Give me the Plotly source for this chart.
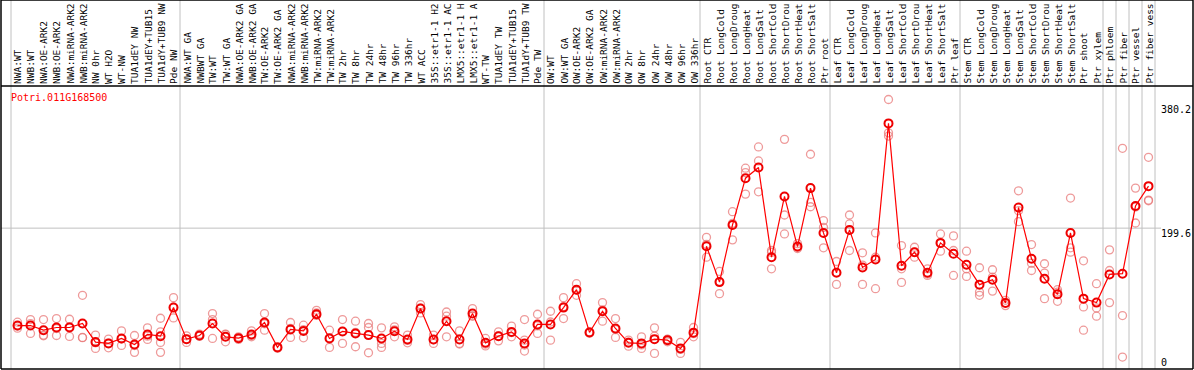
import plotly.graph_objects as go

# ---- data ----
categories = [
    "NWA:WT", "NWB:WT", "NWA:OE-ARK2", "NWB:OE-ARK2", "NWA:miRNA-ARK2", "NWB:miRNA-ARK2",
    "NW 0hr", "WT H2O", "WT-NW", "TUA1dEY NW", "TUA1dEY+TUB15", "TUA1dY+TUB9 NW", "Pde NW",
    "NWA:WT GA", "NWBWT GA", "TW:WT", "TW:WT GA", "NWA:OE-ARK2 GA", "NWB:OE-ARK2 GA",
    "TW:OE-ARK2", "TW:OE-ARK2 GA", "NWA:miRNA-ARK2", "NWB:miRNA-ARK2", "TW:miRNA-ARK2",
    "TW:miRNA-ARK2", "TW 2hr", "TW 8hr", "TW 24hr", "TW 48hr", "TW 96hr", "TW 336hr",
    "WT ACC", "35S::etr1-1 H2O", "35S::etr1-1 ACC", "LMX5::etr1-1 H2O", "LMX5::etr1-1 ACC",
    "WT-TW", "TUA1dEY TW", "TUA1dEY+TUB15", "TUA1dY+TUB9 TW", "Pde TW",
    "OW:WT", "OW:WT GA", "OW:OE-ARK2", "OW:OE-ARK2 GA", "OW:miRNA-ARK2", "OW:miRNA-ARK2",
    "OW 2hr", "OW 8hr", "OW 24hr", "OW 48hr", "OW 96hr", "OW 336hr",
    "Root CTR", "Root LongCold", "Root LongDrought", "Root LongHeat", "Root LongSalt",
    "Root ShortCold", "Root ShortDrought", "Root ShortHeat", "Root ShortSalt", "Ptr root",
    "Leaf CTR", "Leaf LongCold", "Leaf LongDrought", "Leaf LongHeat", "Leaf LongSalt",
    "Leaf ShortCold", "Leaf ShortDrought", "Leaf ShortHeat", "Leaf ShortSalt", "Ptr leaf",
    "Stem CTR", "Stem LongCold", "Stem LongDrought", "Stem LongHeat", "Stem LongSalt",
    "Stem ShortCold", "Stem ShortDrought", "Stem ShortHeat", "Stem ShortSalt",
    "Ptr shoot", "Ptr xylem", "Ptr phloem", "Ptr fiber", "Ptr vessel", "Ptr fiber vessel",
]

mean_values = [
    61.6, 61.6, 55.0, 58.8, 58.8, 64.5, 38.1, 36.3, 43.3, 34.8, 48.9, 46.5, 87.0,
    42.3, 47.5, 64.5, 45.6, 43.7, 48.9, 65.9, 30.6, 56.0, 54.0, 77.6, 43.3, 53.2,
    50.4, 48.0, 43.3, 53.6, 41.9, 85.6, 41.9, 67.7, 41.9, 78.6, 37.1, 46.5, 52.6,
    36.3, 63.1, 63.1, 87.0, 112.4, 51.8, 81.8, 57.4, 37.1, 36.3, 42.3, 40.9, 29.2,
    51.5, 173.9, 123.1, 204.1, 270.4, 285.4, 158.4, 244.5, 173.5, 256.3, 192.8, 136.4,
    197.1, 143.9, 155.2, 348.0, 146.3, 165.5, 136.4, 178.7, 163.2, 147.7, 119.5, 126.5,
    93.5, 228.9, 156.2, 127.9, 105.8, 192.8, 99.7, 94.1, 134.0, 135.0, 230.9, 259.1,
]

replicate_values = [
    [66.3, 57.8, 60.7], [70.1, 50.4, 64.3], [70.1, 47.0, 48.0], [71.5, 47.5, 57.4],
    [70.5, 46.1, 59.8], [104.4, 44.7, 44.4], [48.0, 29.2, 37.1], [42.3, 30.0, 36.6],
    [54.0, 33.4, 42.5], [47.5, 23.6, 33.3], [58.3, 41.9, 46.5], [71.9, 52.6, 37.7, 23.6],
    [101.1, 72.4, 87.5], [47.0, 37.7, 42.2], [46.5, 49.4, 46.6], [78.6, 70.1, 43.3],
    [49.4, 38.5, 48.9], [45.6, 41.9, 43.6], [54.0, 45.6, 47.1], [78.6, 55.0, 64.1],
    [31.5, 29.6, 30.7], [65.9, 44.7, 57.4], [62.1, 44.2, 55.7], [83.2, 79.4, 76.0],
    [55.0, 30.6, 44.3], [70.1, 36.3, 53.2], [67.7, 31.5, 52.0], [64.5, 58.8, 23.0],
    [58.3, 36.3, 30.6], [59.7, 45.6, 55.5], [48.0, 37.1, 40.6], [91.3, 79.4, 86.1],
    [48.0, 36.3, 41.4], [80.8, 74.8, 45.6], [54.0, 36.3, 35.4], [85.6, 74.8, 75.4],
    [43.3, 35.3, 32.7], [52.6, 39.9, 47.0], [60.7, 45.6, 51.6], [70.1, 40.9, 33.9, 25.4],
    [77.6, 50.4, 61.3], [81.8, 40.9, 66.6], [101.1, 71.5, 88.4], [120.9, 104.4, 111.9],
    [51.8, 52.8, 50.8], [94.1, 67.7, 83.6], [71.5, 44.7, 56.0], [40.9, 32.4, 38.0],
    [45.6, 29.2, 34.1], [58.3, 22.1, 46.5], [41.9, 38.5, 42.3], [37.7, 22.1, 27.8],
    [58.8, 45.6, 50.1], [186.6, 158.4, 176.7], [138.2, 106.8, 124.3], [222.9, 183.0, 206.4],
    [284.5, 278.3, 247.8], [314.6, 294.8, 251.1], [167.9, 142.0, 165.3], [325.4, 218.2, 191.4],
    [170.7, 177.7, 172.1], [304.3, 236.0, 229.9], [210.2, 200.7, 171.7], [152.3, 119.9, 137.0],
    [218.2, 205.5, 167.9], [164.6, 119.9, 147.2], [192.8, 158.4, 113.8], [381.9, 334.7, 330.1],
    [174.9, 142.0, 122.7], [172.5, 158.4, 165.5], [142.0, 132.6, 134.6], [191.4, 166.9, 177.8],
    [188.6, 167.9, 132.6], [166.9, 142.0, 131.2], [143.5, 109.0, 104.4], [140.6, 130.2, 110.4],
    [97.3, 93.5, 89.8], [252.5, 224.3, 208.8], [176.3, 149.9, 139.6], [149.1, 135.8, 99.7],
    [112.4, 95.9, 109.0], [242.2, 171.7, 165.5], [153.3, 87.9, 55.0], [120.9, 86.5, 74.8],
    [168.8, 139.6, 94.1], [312.7, 75.7, 16.9], [256.3, 206.9, 229.5], [300.0, 239.4, 238.4],
]

group_boundaries = [-0.5, 12.5, 40.5, 52.5, 62.5, 72.5, 83.5, 84.5, 85.5, 86.5, 87.5]
y_tick_values = [0, 199.6, 380.2]
y_tick_labels = ["0", "199.6", "380.2"]
gene_title = "Potri.011G168500"

# ---- layout geometry ----
W, H = 1194, 370
ML, MR, MT, MB = 1, 1, 86, 1
plot_h = H - MT - MB
plot_w = W - ML - MR
top_paper = 1 + MT / plot_h
y_max = max(max(r) for r in replicate_values) * 1.05
MAX_LABEL_CHARS = 14  # header column only shows this many characters

FONT = "DejaVu Sans Mono"

fig = go.Figure()

rx, ry = [], []
for i, reps in enumerate(replicate_values):
    for v in reps:
        rx.append(i)
        ry.append(v)

fig.add_trace(go.Scatter(
    x=rx, y=ry, mode="markers",
    marker=dict(symbol="circle-open", size=8, color="rgba(232,120,120,0.75)",
                line=dict(width=1.3, color="rgba(232,120,120,0.75)")),
    hoverinfo="skip", showlegend=False,
))
fig.add_trace(go.Scatter(
    x=list(range(len(categories))), y=mean_values, mode="lines+markers",
    line=dict(color="#ff0000", width=1.2),
    marker=dict(symbol="circle-open", size=8, color="#ee0000",
                line=dict(width=2, color="#ee0000")),
    hoverinfo="skip", showlegend=False,
))

shapes = []
for b in group_boundaries:
    shapes.append(dict(type="line", xref="x", yref="paper", x0=b, x1=b, y0=0, y1=top_paper,
                       line=dict(color="#c0c0c0", width=1), layer="below"))
label_x_paper = (1161 - ML) / plot_w
shapes.append(dict(type="line", xref="paper", yref="y", x0=0, x1=label_x_paper,
                   y0=y_tick_values[1], y1=y_tick_values[1],
                   line=dict(color="#c0c0c0", width=1), layer="below"))
# frame
for (x0, y0, x1, y1) in [(0, 0, 0, top_paper), (1, 0, 1, top_paper), (0, 0, 1, 0),
                         (0, 1, 1, 1), (0, top_paper, 1, top_paper)]:
    shapes.append(dict(type="line", xref="paper", yref="paper", x0=x0, x1=x1, y0=y0, y1=y1,
                       line=dict(color="black", width=1.5)))

annotations = []
for i, lab in enumerate(categories):
    annotations.append(dict(x=i, y=1, xref="x", yref="paper", text=lab[:MAX_LABEL_CHARS],
                            showarrow=False, textangle=-90, xanchor="center", yanchor="bottom",
                            yshift=2, borderpad=0, borderwidth=0,
                            font=dict(family=FONT, size=9.5, color="black")))
annotations.append(dict(x=(9 - ML) / plot_w, y=(H - MB - 97) / plot_h, xref="paper", yref="paper",
                        text=gene_title, showarrow=False, xanchor="left", yanchor="middle",
                        font=dict(family=FONT, size=10, color="#ff0000")))
label_centers = {"0": 362, "199.6": 233, "380.2": 109.5}
for lab in y_tick_labels:
    annotations.append(dict(x=label_x_paper, y=(H - MB - label_centers[lab]) / plot_h,
                            xref="paper", yref="paper", text=lab, showarrow=False,
                            xanchor="left", yanchor="middle", borderpad=0, borderwidth=0,
                            font=dict(family=FONT, size=10, color="black")))

x_left = -0.5 - (11 - ML) / 13.0
x_right = x_left + plot_w / 13.0

fig.update_layout(
    width=W, height=H, margin=dict(l=ML, r=MR, t=MT, b=MB, pad=0),
    paper_bgcolor="white", plot_bgcolor="white",
    xaxis=dict(range=[x_left, x_right], showgrid=False, zeroline=False, showticklabels=False,
               ticks="", fixedrange=True),
    yaxis=dict(range=[0, y_max], showgrid=False, zeroline=False, showticklabels=False,
               ticks="", fixedrange=True),
    shapes=shapes, annotations=annotations,
)

fig.write_html("out.html", config={"displayModeBar": False},
               post_script="document.body.style.margin='0';")
